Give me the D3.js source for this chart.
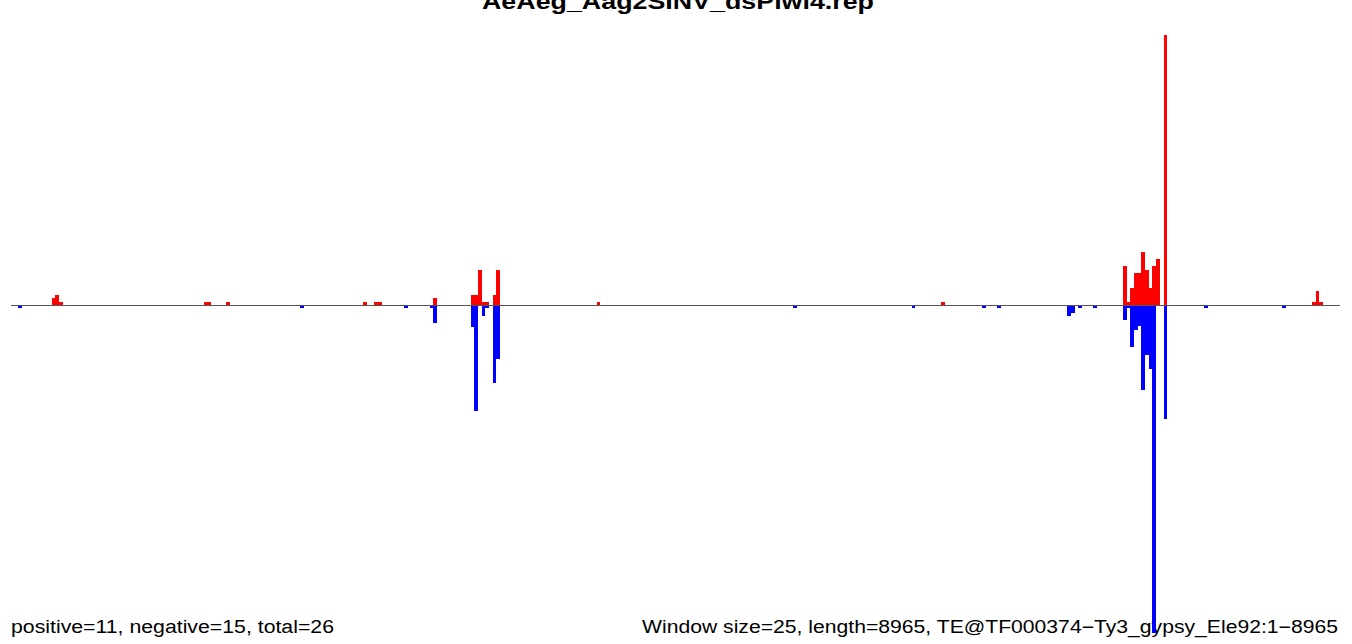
<!DOCTYPE html>
<html>
<head>
<meta charset="utf-8">
<script src="https://cdn.jsdelivr.net/npm/d3@7"></script>
<style>
  html, body { margin: 0; padding: 0; background: #ffffff; }
  svg { display: block; }
</style>
</head>
<body>
<svg id="chart" width="1352" height="644"></svg>
<script>
// ---- data ----
const chartTitle = "AeAeg_Aag2SINV_dsPiwi4.rep";
const leftNote = "positive=11, negative=15, total=26";
const rightNote = "Window size=25, length=8965, TE@TF000374\u2212Ty3_gypsy_Ele92:1\u22128965";
const windowSize = 25;
const teLength = 8965;
// window indices (window i covers bp [i*25, i*25+25))
const windowIndex = [2, 11, 12, 13, 52, 53, 58, 78, 95, 98, 99, 106, 113, 114,
  124, 125, 126, 127, 128, 130, 131, 158, 211, 243, 251, 262, 266,
  285, 286, 288, 292, 300, 301, 302, 303, 304, 305, 306, 307, 308, 309, 311,
  322, 343, 351, 352, 353];
// sense (positive strand) values
const positiveValues = [0, 2, 3, 1, 1, 1, 1, 0, 1, 1, 1, 0, 0, 2,
  3, 3, 10.3, 1, 1, 3, 10.3, 1, 0, 0, 1, 0, 0,
  0, 0, 0, 0, 11.5, 1, 5, 9.5, 9.5, 15.5, 10.3, 5, 11.5, 13.5, 79.2,
  0, 0, 1, 4, 1];
// antisense (negative strand) values
const negativeValues = [1, 0, 0, 0, 0, 0, 0, 1, 0, 0, 0, 1, 1, 5.3,
  6.4, 31.2, 0, 3.2, 1, 23, 15.7, 0, 1, 1, 0, 1, 1,
  3.2, 2.2, 1, 1, 4.4, 1, 12.4, 7.3, 6.3, 25, 14.6, 18.7, 96.2, 0, 33.3,
  1, 1, 0, 0, 0];

// ---- drawing ----
const svg = d3.select("#chart");
const x = d3.scaleLinear().domain([0, teLength]).range([11, 1340]);
const y = d3.scaleLinear().domain([-100, 80]).range([646, 32.2]);

const rows = windowIndex.map((w, k) => ({
  start: w * windowSize,
  end: w * windowSize + windowSize,
  pos: positiveValues[k],
  neg: negativeValues[k]
}));

// title
svg.append("text")
  .attr("x", 678).attr("y", 9)
  .attr("text-anchor", "middle")
  .attr("font-family", "Liberation Sans, Arial, sans-serif")
  .attr("font-weight", "bold")
  .attr("font-size", 22)
  .attr("textLength", 392)
  .attr("lengthAdjust", "spacingAndGlyphs")
  .text(chartTitle);

// bottom notes
svg.append("text")
  .attr("x", 11).attr("y", 633)
  .attr("font-family", "Liberation Sans, Arial, sans-serif")
  .attr("font-size", 18)
  .attr("textLength", 323)
  .attr("lengthAdjust", "spacingAndGlyphs")
  .text(leftNote);

svg.append("text")
  .attr("x", 642).attr("y", 633)
  .attr("font-family", "Liberation Sans, Arial, sans-serif")
  .attr("font-size", 18)
  .attr("textLength", 696)
  .attr("lengthAdjust", "spacingAndGlyphs")
  .text(rightNote);

// positive bars
svg.append("g").attr("shape-rendering", "crispEdges")
  .selectAll("rect")
  .data(rows.filter(d => d.pos > 0))
  .join("rect")
  .attr("x", d => x(d.start))
  .attr("width", d => x(d.end) - x(d.start))
  .attr("y", d => y(d.pos))
  .attr("height", d => y(0) - y(d.pos))
  .attr("fill", "#ff0000");

// negative bars
svg.append("g").attr("shape-rendering", "crispEdges")
  .selectAll("rect")
  .data(rows.filter(d => d.neg > 0))
  .join("rect")
  .attr("x", d => x(d.start))
  .attr("width", d => x(d.end) - x(d.start))
  .attr("y", y(0))
  .attr("height", d => y(-d.neg) - y(0))
  .attr("fill", "#0000ff");

// baseline
svg.append("line")
  .attr("x1", x(0)).attr("x2", x(teLength))
  .attr("y1", y(0)).attr("y2", y(0))
  .attr("stroke", "#555555")
  .attr("stroke-width", 1)
  .attr("shape-rendering", "crispEdges");
</script>
</body>
</html>
